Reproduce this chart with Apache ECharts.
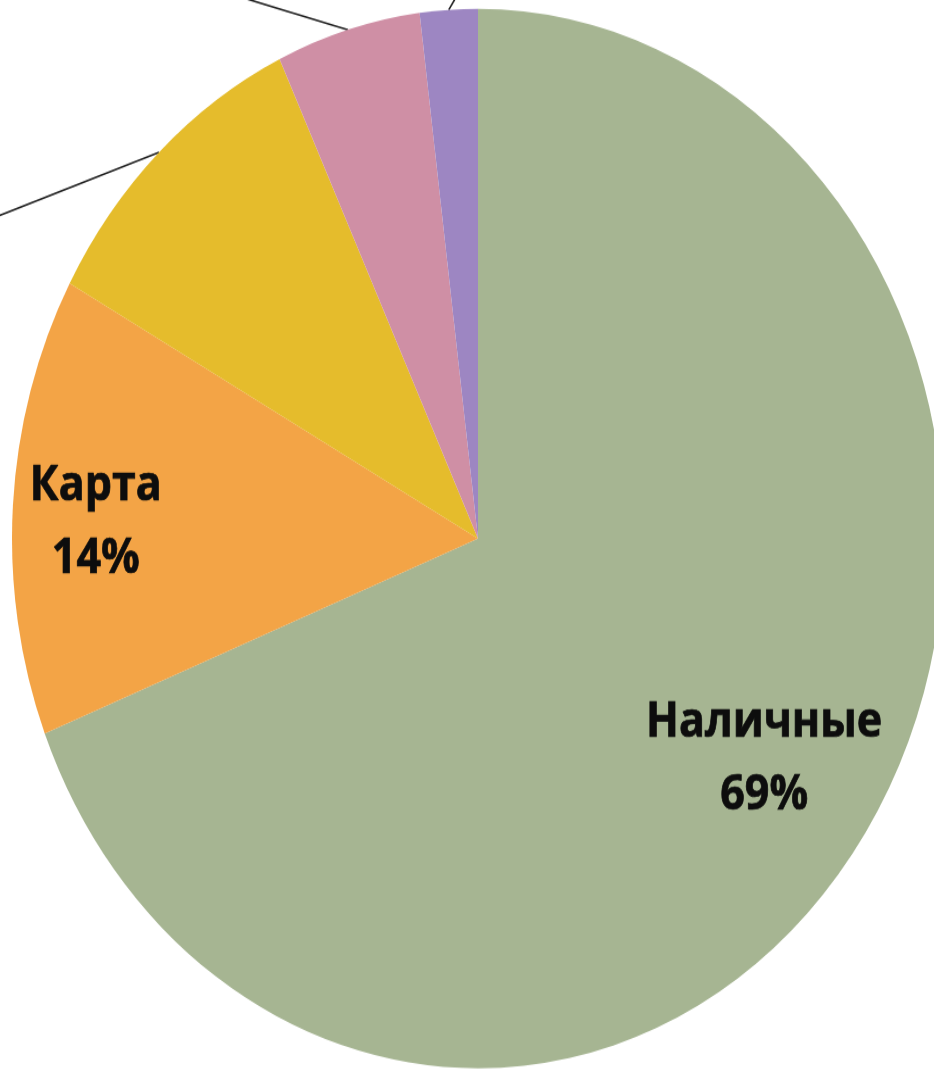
<!DOCTYPE html>
<html>
<head>
<meta charset="utf-8">
<script src="https://cdn.jsdelivr.net/npm/echarts@6/dist/echarts.min.js"></script>
<style>
  html, body { margin: 0; padding: 0; background: #ffffff; overflow: hidden; }
  #wrap { width: 934px; height: 1072px; overflow: hidden; position: relative; }
  /* the pie is drawn as a circle and stretched vertically into an ellipse */
  #chart { width: 934px; height: 943px; transform: scaleY(1.1368); transform-origin: 0 0; }
</style>
</head>
<body>
<div id="wrap"><div id="chart"></div></div>
<script>
// Payment methods, share of purchases (%)
const categories = ['Наличные', 'Карта', 'Электронные деньги', 'Перевод', 'Другое'];
const shares = [69, 14, 10, 5, 2];
const colors = ['#A6B592', '#F3A446', '#E5BC2C', '#CF8FA5', '#9D86C2'];

// direction of the straight leader lines for the small slices (labels sit outside the view)
const leaderDirs = [null, null, [-158, 55], [-97, -26], [7, -10.6]];

const CX = 478, CY = 473.7, R = 466;
const textStyle = {
  fontFamily: 'Open Sans',
  fontWeight: 'bold',
  fontSize: 43,
  lineHeight: 64,
  color: '#0d0d0d',
  textBorderColor: '#0d0d0d',
  textBorderWidth: 0.7,
  align: 'center'
};

const pieData = categories.map((name, i) => ({
  name,
  value: shares[i],
  itemStyle: { color: colors[i] },
  label: { show: i > 1 },
  labelLine: { show: i > 1 }
}));

// transparent copy used only to place an inside label at a given radial distance
function ghost(index, innerR, offset) {
  return {
    type: 'pie',
    silent: true,
    startAngle: 90,
    clockwise: true,
    center: [CX, CY],
    radius: [innerR, R],
    avoidLabelOverlap: false,
    emphasis: { disabled: true },
    itemStyle: { color: 'rgba(0,0,0,0)' },
    labelLine: { show: false },
    label: Object.assign({ show: false, position: 'inside', formatter: '{b}\n{d}%', offset }, textStyle),
    data: categories.map((name, i) => ({
      name,
      value: shares[i],
      label: { show: i === index }
    }))
  };
}

const chart = echarts.init(document.getElementById('chart'), null, { renderer: 'canvas' });
chart.setOption({
  animation: false,
  backgroundColor: 'transparent',
  series: [
    {
      type: 'pie',
      startAngle: 90,
      clockwise: true,
      center: [CX, CY],
      radius: [0, R],
      avoidLabelOverlap: false,
      emphasis: { disabled: true },
      itemStyle: { borderWidth: 0 },
      label: Object.assign({ position: 'outside', formatter: '{b}\n{d}%' }, textStyle),
      labelLine: { lineStyle: { color: '#1f1f1f', width: 1.6 }, length: 20, length2: 20 },
      labelLayout: function (params) {
        const d = leaderDirs[params.dataIndex];
        const pts = params.labelLinePoints;
        if (!d || !pts) return {};
        const p0 = pts[0];
        const n = Math.hypot(d[0], d[1]);
        const len = 420;
        const end = [p0[0] + d[0] / n * len, p0[1] + d[1] / n * len];
        return {
          x: end[0],
          y: end[1],
          align: d[0] < 0 ? 'right' : 'left',
          verticalAlign: 'middle',
          labelLinePoints: [p0, end]
        };
      },
      data: pieData
    },
    ghost(0, 220, [0, 0]),
    ghost(1, 294, [0, 10])
  ]
});
</script>
</body>
</html>
